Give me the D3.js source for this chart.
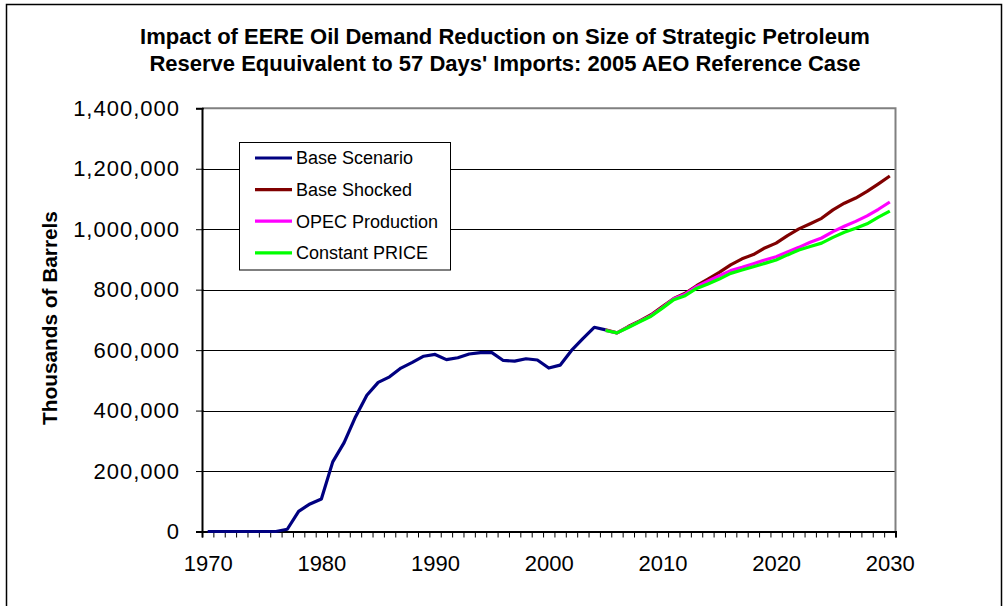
<!DOCTYPE html>
<html>
<head>
<meta charset="utf-8">
<script src="https://cdn.jsdelivr.net/npm/d3@7"></script>
<style>
  html, body { margin: 0; padding: 0; background: #fff; }
  svg { display: block; font-family: Arial, "Liberation Sans", sans-serif; }
</style>
</head>
<body>
<svg id="chart" width="1003" height="606"></svg>
<script>
// Strategic Petroleum Reserve size (thousands of barrels)
const historyYears = d3.range(1970, 2006);
const baseScenario = [
  0, 0, 0, 0, 0, 0, 0, 7455, 66860, 91190,
  107800, 230340, 293830, 379090, 450510, 493320, 511580, 540650, 559520, 579860,
  585690, 568510, 574720, 587080, 591670, 591640, 565820, 563430, 571410, 567240,
  540680, 550240, 599090, 638390, 675600, 667000
];

const projectionYears = d3.range(2005, 2031);
const baseShocked = [
  667000, 657000, 678000, 697000, 717000, 744000, 771000, 788000, 813000, 835000,
  857000, 882000, 902000, 916000, 938000, 954000, 979000, 1001000, 1018000, 1036000,
  1064000, 1086000, 1103000, 1125000, 1150000, 1176000
];
const opecProduction = [
  665000, 657000, 676000, 695000, 714000, 741000, 770000, 785000, 810000, 828000,
  846000, 863000, 874000, 886000, 898000, 909000, 925000, 940000, 957000, 971000,
  992000, 1010000, 1026000, 1044000, 1066000, 1090000
];
const constantPrice = [
  665000, 657000, 675000, 694000, 712000, 739000, 767000, 780000, 804000, 819000,
  835000, 854000, 865000, 876000, 887000, 898000, 915000, 931000, 943000, 954000,
  973000, 990000, 1003000, 1018000, 1040000, 1060000
];

const seriesNames = ["Base Scenario", "Base Shocked", "OPEC Production", "Constant PRICE"];
const seriesColors = ["#000080", "#800000", "#ff00ff", "#00ff00"];
const yTicks = [0, 200000, 400000, 600000, 800000, 1000000, 1200000, 1400000];
const xLabelYears = [1970, 1980, 1990, 2000, 2010, 2020, 2030];
const titleLines = [
  "Impact of EERE Oil Demand Reduction on Size of Strategic Petroleum",
  "Reserve Equuivalent to 57 Days' Imports: 2005 AEO Reference Case"
];

const svg = d3.select("#chart");

// outer chart frame
svg.append("rect")
  .attr("x", 6.5).attr("y", 4.5)
  .attr("width", 995).attr("height", 620)
  .attr("fill", "#fff").attr("stroke", "#000").attr("stroke-width", 1.5);

const plot = { left: 202, right: 895.5, top: 108.3, bottom: 531.5 };

// category axis: each year occupies one slot, points sit at slot centres
const x = d3.scaleLinear().domain([1969.5, 2030.5]).range([plot.left, plot.right]);
const y = d3.scaleLinear().domain([0, 1400000]).range([plot.bottom, plot.top]);

// gridlines
svg.append("g")
  .selectAll("line")
  .data(yTicks.filter(v => v > 0 && v < 1400000))
  .join("line")
  .attr("x1", plot.left).attr("x2", plot.right)
  .attr("y1", d => Math.round(y(d)) + 0.5).attr("y2", d => Math.round(y(d)) + 0.5)
  .attr("stroke", "#000").attr("stroke-width", 1);

// top and right plot border
svg.append("path")
  .attr("d", `M${plot.left},${plot.top}H${plot.right}V${plot.bottom}`)
  .attr("fill", "none").attr("stroke", "#808080").attr("stroke-width", 2);

// y axis
const yAxis = svg.append("g")
  .attr("transform", `translate(${plot.left},0)`)
  .call(d3.axisLeft(y).tickValues(yTicks).tickFormat(d3.format(",")).tickSize(6).tickPadding(16));
yAxis.select(".domain").attr("stroke", "#000").attr("stroke-width", 2);
yAxis.selectAll(".tick line").attr("stroke", "#000").attr("x2", -6).attr("x1", 2);
yAxis.selectAll(".tick text")
  .attr("font-size", 22).attr("fill", "#000")
  .attr("letter-spacing", 1)
  .attr("font-family", "Arial, 'Liberation Sans', sans-serif");

// x axis: tick marks at slot boundaries
const xTickAxis = svg.append("g")
  .attr("transform", `translate(0,${plot.bottom})`)
  .call(d3.axisBottom(x).tickValues(d3.range(1969.5, 2031, 1)).tickFormat("").tickSize(6));
xTickAxis.select(".domain").attr("stroke", "#000").attr("stroke-width", 2);
xTickAxis.selectAll(".tick line").attr("stroke", "#000");

// x axis labels at slot centres
const xLabelAxis = svg.append("g")
  .attr("transform", `translate(0,${plot.bottom})`)
  .call(d3.axisBottom(x).tickValues(xLabelYears).tickFormat(d3.format("d")).tickSize(0).tickPadding(24));
xLabelAxis.select(".domain").remove();
xLabelAxis.selectAll(".tick text")
  .attr("font-size", 22).attr("fill", "#000")
  .attr("font-family", "Arial, 'Liberation Sans', sans-serif");

// series lines
const line = d3.line().x(d => x(d[0])).y(d => y(d[1]));
const seriesData = [
  historyYears.map((yr, i) => [yr, baseScenario[i]]),
  projectionYears.map((yr, i) => [yr, baseShocked[i]]),
  projectionYears.map((yr, i) => [yr, opecProduction[i]]),
  projectionYears.map((yr, i) => [yr, constantPrice[i]])
];
svg.append("g")
  .selectAll("path")
  .data(seriesData)
  .join("path")
  .attr("d", line)
  .attr("fill", "none")
  .attr("stroke", (d, i) => seriesColors[i])
  .attr("stroke-width", 3.2)
  .attr("stroke-linejoin", "round");

// legend
const legend = svg.append("g");
legend.append("rect")
  .attr("x", 239.5).attr("y", 142.5)
  .attr("width", 211).attr("height", 127.5)
  .attr("fill", "#fff").attr("stroke", "#000").attr("stroke-width", 1);
const rows = legend.selectAll("g.row")
  .data(seriesNames)
  .join("g")
  .attr("class", "row")
  .attr("transform", (d, i) => `translate(0,${158 + i * 31.6})`);
rows.append("line")
  .attr("x1", 255).attr("x2", 292)
  .attr("stroke", (d, i) => seriesColors[i]).attr("stroke-width", 3.2);
rows.append("text")
  .attr("x", 296).attr("dy", "0.36em")
  .attr("font-size", 18).attr("fill", "#000")
  .text(d => d);

// title
svg.append("g")
  .selectAll("text")
  .data(titleLines)
  .join("text")
  .attr("x", 505).attr("y", (d, i) => 44 + i * 27)
  .attr("text-anchor", "middle")
  .attr("font-size", 22).attr("font-weight", "bold")
  .text(d => d);

// y axis title
svg.append("text")
  .attr("transform", `translate(57,318) rotate(-90)`)
  .attr("text-anchor", "middle")
  .attr("font-size", 20.8).attr("font-weight", "bold")
  .text("Thousands of Barrels");
</script>
</body>
</html>
